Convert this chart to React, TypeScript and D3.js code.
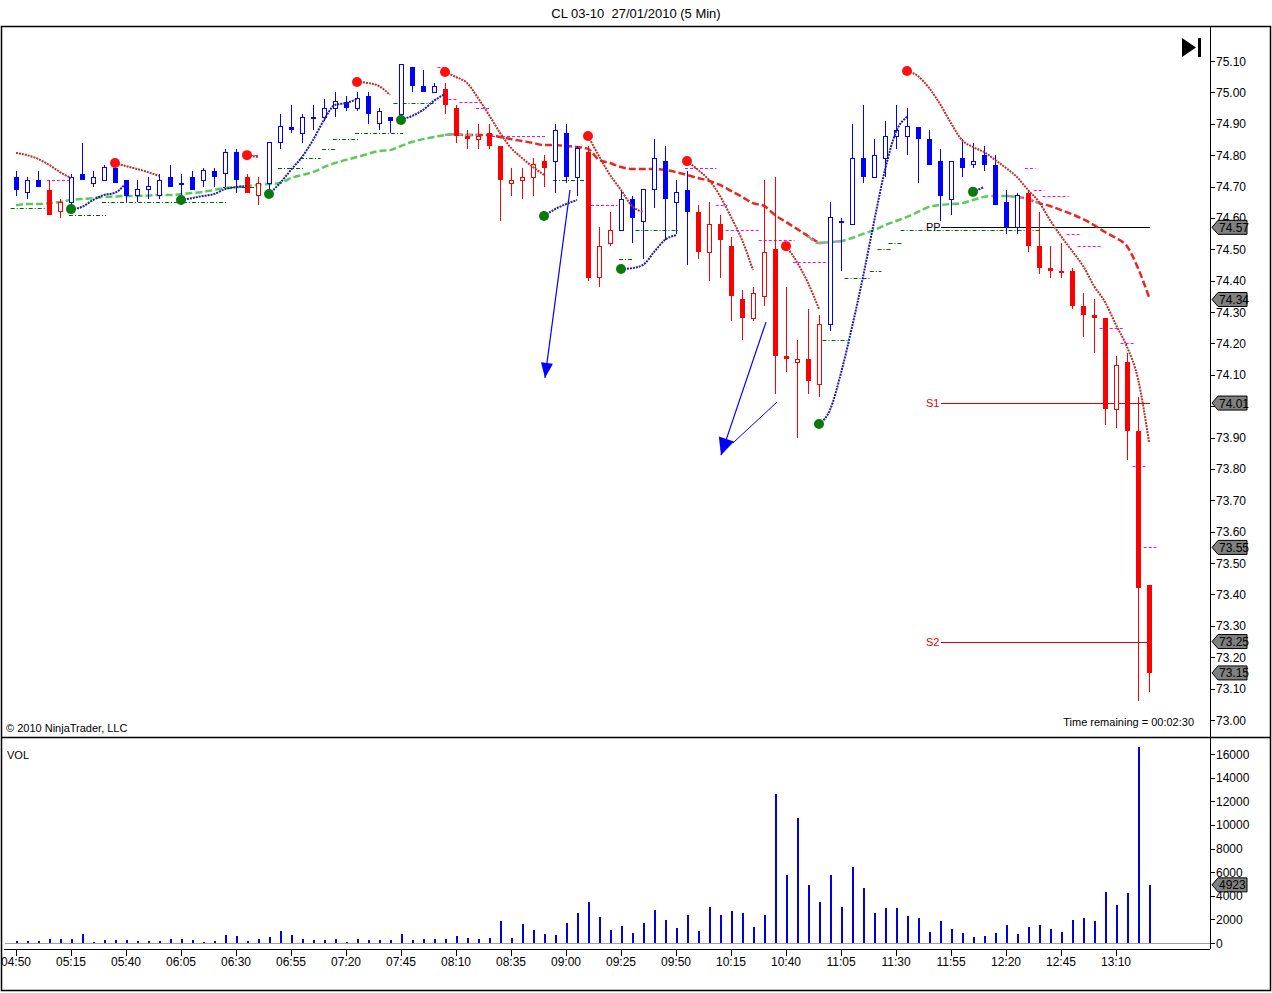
import * as d3 from 'd3';

// Price bars, 5 min, 04:50 .. 13:25
const opens = [74.73, 74.68, 74.72, 74.69, 74.62, 74.65, 74.74, 74.71, 74.72, 74.76,
  74.72, 74.67, 74.69, 74.67, 74.73, 74.71, 74.73, 74.72, 74.75, 74.74,
  74.81, 74.73, 74.67, 74.71, 74.84, 74.89, 74.87, 74.92, 74.92, 74.95,
  74.97, 74.95, 74.99, 74.90, 74.92, 74.93, 75.08, 75.02, 75.00, 75.01,
  74.95, 74.86, 74.85, 74.87, 74.83, 74.71, 74.72, 74.73, 74.78, 74.78,
  74.87, 74.73, 74.81, 74.41, 74.52, 74.56, 74.66, 74.59, 74.69, 74.78,
  74.65, 74.69, 74.62, 74.49, 74.58, 74.51, 74.34, 74.28, 74.35, 74.50,
  74.16, 74.14, 74.15, 74.07, 74.26, 74.59, 74.58, 74.79, 74.73, 74.79,
  74.86, 74.86, 74.89, 74.85, 74.78, 74.66, 74.79, 74.77, 74.80, 74.77,
  74.65, 74.57, 74.68, 74.51, 74.44, 74.43, 74.43, 74.32, 74.29, 74.28,
  73.99, 74.14, 73.92, 73.43];
const highs = [74.75, 74.73, 74.75, 74.72, 74.66, 74.74, 74.84, 74.75, 74.77, 74.78,
  74.72, 74.72, 74.73, 74.74, 74.77, 74.74, 74.75, 74.76, 74.76, 74.82,
  74.82, 74.74, 74.73, 74.84, 74.93, 74.96, 74.93, 74.96, 74.98, 75.00,
  74.99, 75.00, 75.00, 74.95, 74.92, 75.09, 75.08, 75.07, 75.03, 75.03,
  74.96, 74.88, 74.90, 74.90, 74.83, 74.76, 74.76, 74.79, 74.80, 74.90,
  74.90, 74.83, 74.83, 74.57, 74.62, 74.69, 74.67, 74.69, 74.85, 74.83,
  74.72, 74.75, 74.64, 74.65, 74.61, 74.54, 74.37, 74.38, 74.72, 74.73,
  74.38, 74.21, 74.31, 74.29, 74.65, 74.60, 74.90, 74.96, 74.85, 74.91,
  74.96, 74.95, 74.89, 74.88, 74.82, 74.78, 74.85, 74.84, 74.83, 74.80,
  74.69, 74.68, 74.69, 74.62, 74.51, 74.52, 74.44, 74.36, 74.34, 74.28,
  74.16, 74.17, 74.03, 73.43];
const lows = [74.67, 74.66, 74.70, 74.61, 74.60, 74.62, 74.72, 74.70, 74.72, 74.71,
  74.65, 74.65, 74.66, 74.66, 74.70, 74.64, 74.69, 74.70, 74.70, 74.70,
  74.68, 74.68, 74.64, 74.68, 74.82, 74.87, 74.84, 74.88, 74.91, 74.92,
  74.94, 74.94, 74.90, 74.88, 74.87, 74.93, 75.00, 75.00, 75.00, 74.93,
  74.84, 74.82, 74.82, 74.82, 74.59, 74.67, 74.66, 74.67, 74.70, 74.68,
  74.71, 74.67, 74.40, 74.38, 74.51, 74.56, 74.52, 74.47, 74.63, 74.53,
  74.55, 74.45, 74.47, 74.40, 74.41, 74.27, 74.21, 74.27, 74.32, 74.04,
  74.11, 73.90, 74.04, 74.03, 74.24, 74.43, 74.58, 74.71, 74.73, 74.73,
  74.82, 74.80, 74.71, 74.77, 74.59, 74.61, 74.73, 74.76, 74.75, 74.64,
  74.55, 74.55, 74.49, 74.42, 74.41, 74.41, 74.31, 74.22, 74.17, 73.94,
  73.93, 73.83, 73.06, 73.09];
const closes = [74.69, 74.72, 74.70, 74.61, 74.65, 74.73, 74.72, 74.73, 74.76, 74.71,
  74.67, 74.69, 74.70, 74.72, 74.70, 74.71, 74.69, 74.75, 74.73, 74.81,
  74.72, 74.68, 74.71, 74.84, 74.89, 74.88, 74.92, 74.92, 74.95, 74.97,
  74.95, 74.98, 74.93, 74.94, 74.91, 75.09, 75.02, 75.00, 75.02, 74.96,
  74.86, 74.85, 74.86, 74.83, 74.72, 74.72, 74.73, 74.77, 74.76, 74.88,
  74.73, 74.82, 74.41, 74.51, 74.56, 74.66, 74.60, 74.69, 74.79, 74.66,
  74.68, 74.62, 74.49, 74.58, 74.53, 74.35, 74.28, 74.36, 74.49, 74.16,
  74.15, 74.15, 74.08, 74.26, 74.60, 74.59, 74.79, 74.73, 74.80, 74.86,
  74.88, 74.89, 74.85, 74.77, 74.67, 74.78, 74.76, 74.78, 74.77, 74.64,
  74.57, 74.67, 74.51, 74.44, 74.43, 74.43, 74.32, 74.29, 74.28, 73.99,
  74.13, 73.92, 73.42, 73.15];
// trend colour runs: [colour, number of bars]
const trendRuns: [string, number][] = [['b', 3], ['r', 2], ['b', 16], ['r', 2], ['b', 16], ['r', 10],
  ['b', 3], ['r', 3], ['b', 7], ['r', 12], ['b', 18], ['r', 12]];

const volumes = [170, 170, 170, 340, 340, 340, 800, 110, 250, 250,
  250, 170, 170, 170, 340, 340, 250, 110, 170, 680,
  600, 170, 340, 510, 1020, 680, 340, 250, 250, 340,
  85, 340, 250, 250, 250, 760, 250, 340, 340, 340,
  600, 420, 340, 420, 1870, 420, 1640, 1100, 790, 680,
  1700, 2550, 3480, 2200, 1100, 1440, 850, 1700, 2800, 1950,
  1270, 2380, 1020, 3060, 2380, 2720, 2550, 1360, 2380, 12580,
  5780, 10540, 4930, 3480, 5780, 3060, 6460, 4670, 2550, 2970,
  2970, 2290, 2120, 930, 1870, 1190, 850, 510, 600, 850,
  1530, 760, 1360, 1530, 1190, 930, 1950, 2120, 1870, 4330,
  3230, 4250, 16570, 4923];

// slow moving average, one value per bar
const maValues = [74.640, 74.644, 74.644, 74.647, 74.651, 74.657, 74.660, 74.663, 74.667, 74.668,
  74.670, 74.670, 74.671, 74.673, 74.673, 74.676, 74.679, 74.683, 74.689, 74.695,
  74.698, 74.702, 74.705, 74.708, 74.711, 74.727, 74.737, 74.746, 74.762, 74.775,
  74.785, 74.794, 74.804, 74.813, 74.816, 74.829, 74.842, 74.851, 74.858, 74.864,
  74.867, 74.864, 74.864, 74.864, 74.858, 74.851, 74.845, 74.839, 74.832, 74.832,
  74.829, 74.826, 74.820, 74.785, 74.775, 74.762, 74.756, 74.756, 74.756, 74.753,
  74.746, 74.737, 74.727, 74.718, 74.705, 74.686, 74.667, 74.647, 74.638, 74.609,
  74.587, 74.565, 74.542, 74.520, 74.523, 74.526, 74.536, 74.549, 74.561, 74.577,
  74.590, 74.603, 74.619, 74.635, 74.641, 74.644, 74.647, 74.657, 74.667, 74.670,
  74.670, 74.667, 74.660, 74.647, 74.638, 74.625, 74.612, 74.596, 74.577, 74.555,
  74.536, 74.510, 74.440, 74.348];
// [colour, first bar, last bar]
const maRuns: [string, number, number][] = [['g', 0, 40], ['r', 40, 73], ['g', 73, 91], ['r', 91, 103]];

// trailing stop segments: first bar + values
const blueTrails: [number, number[]][] = [
  [5, [74.628, 74.635, 74.657, 74.673, 74.680, 74.711]],
  [15, [74.657, 74.663, 74.670, 74.676, 74.692, 74.698, 74.702]],
  [23, [74.676, 74.711, 74.753, 74.794, 74.848, 74.912, 74.960, 74.966, 74.979]],
  [35, [74.912, 74.925, 74.944, 74.973, 74.995]],
  [48, [74.606, 74.628, 74.644, 74.657]],
  [55, [74.437, 74.440, 74.450, 74.491, 74.530, 74.545]],
  [73, [73.943, 73.988, 74.106, 74.252, 74.412, 74.587, 74.753, 74.874, 74.922]],
  [87, [74.683, 74.698]],
];
const redTrails: [number, number[]][] = [
  [0, [74.807, 74.800, 74.788, 74.769, 74.746, 74.727]],
  [9, [74.775, 74.765, 74.756, 74.746, 74.734]],
  [21, [74.800, 74.794]],
  [31, [75.033, 75.030, 75.020, 74.992]],
  [39, [75.065, 75.049, 75.030, 74.982, 74.928, 74.871, 74.823, 74.791, 74.762, 74.737]],
  [52, [74.861, 74.797, 74.737, 74.689, 74.638, 74.619]],
  [61, [74.781, 74.753, 74.721, 74.670, 74.603, 74.530, 74.434]],
  [70, [74.510, 74.459, 74.393, 74.310]],
  [81, [75.068, 75.052, 75.014, 74.963, 74.902, 74.848, 74.826, 74.810, 74.785, 74.759,
    74.730, 74.689, 74.651, 74.593, 74.542, 74.495, 74.447, 74.383, 74.332, 74.259,
    74.189, 74.087, 73.886]],
];

// short swing levels: [from bar, to bar, price]
const supportDashes: [number, number, number][] = [
  [-0.3, 2.5, 74.63], [5, 8, 74.61], [8, 19, 74.65], [19, 21.5, 74.70], [24, 26, 74.76],
  [26, 27.5, 74.79], [28, 29, 74.82], [29, 31, 74.85], [31, 35, 74.87], [34.5, 38, 74.965],
  [49, 51.5, 74.72], [55, 56, 74.47], [56.5, 60, 74.56], [73.5, 75.5, 74.21], [75.5, 77.5, 74.41],
  [77.8, 78.5, 74.43], [78.5, 79.5, 74.50], [79.5, 80.4, 74.52], [80.6, 93, 74.56],
];
const resistDashes: [number, number, number][] = [
  [3, 5, 74.72], [21, 22, 74.80], [38.5, 39, 75.08], [39.5, 40, 74.98], [40.5, 42, 74.97],
  [42, 43, 74.95], [43, 48, 74.86], [52, 54.5, 74.64], [61, 63.5, 74.76], [63.8, 64.5, 74.64],
  [64.7, 67.5, 74.56], [67.7, 70.6, 74.53], [70.8, 73.5, 74.46], [91.9, 92.5, 74.76],
  [92.7, 93.3, 74.69], [93.5, 95.5, 74.67], [95.7, 96.5, 74.55], [96.7, 98.5, 74.51],
  [98.7, 100.5, 74.25], [100.6, 101.5, 74.20], [101.7, 102.5, 73.81], [102.7, 103.5, 73.55],
];

// pivot levels
const pivots: [string, number, string][] = [['PP', 74.57, '#000000'], ['S1', 74.01, '#e00000'], ['S2', 73.25, '#e00000']];
const priceTags = [74.57, 74.34, 74.01, 73.55, 73.25, 73.15];

// drawn arrows: [bar, price] start and tip
const arrows: [number, number, number, number][] = [
  [50.36, 74.689, 48.09, 74.09],
  [68.18, 74.268, 64.09, 73.844],
];
const arrowExtraLine: [number, number, number, number] = [69.18, 74.013, 65.18, 73.883];

const timeLabels = ['04:50', '05:15', '05:40', '06:05', '06:30', '06:55', '07:20', '07:45', '08:10', '08:35',
  '09:00', '09:25', '09:50', '10:15', '10:40', '11:05', '11:30', '11:55', '12:20', '12:45', '13:10'];
const priceTicks = d3.range(0, 22).map(k => 73 + k * 0.1);
const volTicks = [0, 2000, 4000, 6000, 8000, 10000, 12000, 14000, 16000];

const FONT = "'Liberation Sans', Arial, sans-serif";
const BLUE = '#0000ff';
const RED = '#ff0000';

export default function App() {
  const x = d3.scaleLinear().domain([0, 103]).range([16, 1149]);
  const y = d3.scaleLinear().domain([73.0, 75.1]).range([720, 61]);
  const yv = d3.scaleLinear().domain([0, 16000]).range([943, 754]);
  const axisX = 1210;

  const trend: string[] = [];
  trendRuns.forEach(([c, n]) => { for (let k = 0; k < n; k++) trend.push(c); });

  const line = d3.line<[number, number]>().x(d => x(d[0])).y(d => y(d[1])).curve(d3.curveMonotoneX);

  // moving average pieces, grey where the colour flips
  const maPieces: { d: string; color: string }[] = [];
  maRuns.forEach(([c, a, b], k) => {
    const pts: [number, number][] = d3.range(a, b + 1).map(i => [i, maValues[i]]);
    maPieces.push({ d: line(pts) || '', color: c === 'g' ? '#5acb5a' : '#e8281e' });
    if (k > 0) {
      const t: [number, number][] = d3.range(a - 1, Math.min(a + 2, 103) + 1).map(i => [i, maValues[i]]);
      maPieces.push({ d: line(t) || '', color: '#a0a0a0' });
    }
  });

  // tick labels fully covered by a price tag are not drawn
  const hidden = (p: number) => priceTags.some(t => Math.abs(t - p) < 0.025);

  const tag = (py: number, text: string, key: string) => (
    <g key={key}>
      <path d={`M${axisX + 2},${py} L${axisX + 8},${py - 7} H${axisX + 37} V${py + 7} H${axisX + 8} Z`}
        fill="#808080" stroke="#000" strokeWidth={1} />
      <text x={axisX + 9} y={py + 4.5} fontSize={12} fontFamily={FONT} fill="#000">{text}</text>
    </g>
  );

  const arrowHead = (x1: number, y1: number, x2: number, y2: number, len: number, half: number) => {
    const ang = Math.atan2(y2 - y1, x2 - x1);
    const bx = x2 - len * Math.cos(ang), by = y2 - len * Math.sin(ang);
    const px = -Math.sin(ang) * half, py = Math.cos(ang) * half;
    return `M${x2},${y2} L${bx + px},${by + py} L${bx - px},${by - py} Z`;
  };

  return (
    <div style={{ position: 'absolute', left: 0, top: 0 }}>
      <svg width={1272} height={993} style={{ display: 'block', background: '#fff' }}>
        <text x={636} y={18} textAnchor="middle" fontSize={13} fontFamily={FONT} style={{ whiteSpace: 'pre' }}>
          {'CL 03-10  27/01/2010 (5 Min)'}
        </text>
        {/* frame */}
        <rect x={1.5} y={26.5} width={1269} height={964} fill="none" stroke="#000" strokeWidth={1.5} />
        <line x1={1} x2={1271} y1={737.5} y2={737.5} stroke="#000" strokeWidth={1.5} />
        <line x1={axisX + 0.5} x2={axisX + 0.5} y1={27} y2={949} stroke="#000" />

        {/* support / resistance dashes */}
        {supportDashes.map(([a, b, p], k) => (
          <line key={'s' + k} x1={x(a) - 2} x2={x(b) + 2} y1={Math.round(y(p)) + 0.5} y2={Math.round(y(p)) + 0.5}
            stroke="#006400" strokeDasharray="4 2 1 2" />
        ))}
        {resistDashes.map(([a, b, p], k) => (
          <line key={'r' + k} x1={x(a) - 2} x2={x(b) + 2} y1={Math.round(y(p)) + 0.5} y2={Math.round(y(p)) + 0.5}
            stroke="#ff00ff" strokeDasharray="3 2" />
        ))}

        {/* pivots */}
        {pivots.map(([name, p, c]) => (
          <g key={name}>
            <line x1={941} x2={x(103) + 1} y1={Math.round(y(p)) + 0.5} y2={Math.round(y(p)) + 0.5} stroke={c} />
            <text x={926} y={y(p) + 4} fontSize={11} fontFamily={FONT} fill={c}>{name}</text>
          </g>
        ))}

        {/* moving average */}
        {maPieces.map((m, k) => (
          <path key={'ma' + k} d={m.d} fill="none" stroke={m.color} strokeWidth={2.5} strokeDasharray="7 3" />
        ))}

        {/* candles */}
        <g shapeRendering="crispEdges">
          {opens.map((o, i) => {
            const c = closes[i];
            const col = trend[i] === 'b' ? BLUE : RED;
            const cx = Math.round(x(i));
            const top = y(Math.max(o, c));
            const bot = y(Math.min(o, c));
            const filled = c < o;
            return (
              <g key={'c' + i}>
                <line x1={cx + 0.5} x2={cx + 0.5} y1={y(highs[i])} y2={y(lows[i])} stroke={col} />
                {filled
                  ? <rect x={cx - 2} y={top} width={5} height={Math.max(1, bot - top)} fill={col} />
                  : <rect x={cx - 1.5} y={top} width={4} height={Math.max(1, bot - top)} fill="#fff" stroke={col} />}
              </g>
            );
          })}
        </g>

        {/* trailing stops */}
        {blueTrails.map(([s, vals], k) => (
          <path key={'bt' + k} d={line(vals.map((v, j) => [s + j, v] as [number, number])) || ''}
            fill="none" stroke="#1c1ca0" strokeWidth={2} strokeDasharray="2 1" />
        ))}
        {redTrails.map(([s, vals], k) => (
          <path key={'rt' + k} d={line(vals.map((v, j) => [s + j, v] as [number, number])) || ''}
            fill="none" stroke="#b8302c" strokeWidth={2} strokeDasharray="2 1" />
        ))}
        {blueTrails.map(([s, vals], k) => (
          <circle key={'gd' + k} cx={x(s)} cy={y(vals[0])} r={5} fill="#0a7a0a" />
        ))}
        {redTrails.slice(1).map(([s, vals], k) => (
          <circle key={'rd' + k} cx={x(s)} cy={y(vals[0])} r={5} fill="#ff1010" />
        ))}

        {/* drawn arrows */}
        {arrows.map(([b1, p1, b2, p2], k) => (
          <g key={'ar' + k}>
            <line x1={x(b1)} y1={y(p1)} x2={x(b2)} y2={y(p2)} stroke={BLUE} strokeWidth={1.2} />
            <path d={arrowHead(x(b1), y(p1), x(b2), y(p2), k === 0 ? 15 : 17, k === 0 ? 6 : 8)} fill={BLUE} />
          </g>
        ))}
        <line x1={x(arrowExtraLine[0])} y1={y(arrowExtraLine[1])} x2={x(arrowExtraLine[2])} y2={y(arrowExtraLine[3])}
          stroke={BLUE} strokeWidth={1} />

        {/* price axis */}
        {priceTicks.map(p => (
          <g key={'pt' + p.toFixed(2)}>
            <line x1={axisX} x2={axisX + 5} y1={Math.round(y(p)) + 0.5} y2={Math.round(y(p)) + 0.5} stroke="#000" />
            {!hidden(p) && (
              <text x={axisX + 6} y={y(p) + 4.5} fontSize={12} fontFamily={FONT} fill="#000">{p.toFixed(2)}</text>
            )}
          </g>
        ))}
        {priceTags.map(p => tag(y(p), p.toFixed(2), 'tag' + p))}

        {/* play-to-end icon */}
        <path d="M1182,38 L1196,47.5 L1182,57 Z" fill="#000" />
        <rect x={1198} y={38} width={3} height={19} fill="#000" />

        <text x={6} y={732} fontSize={11} fontFamily={FONT} fill="#000">© 2010 NinjaTrader, LLC</text>
        <text x={1194} y={726} textAnchor="end" fontSize={11} fontFamily={FONT} fill="#000">Time remaining = 00:02:30</text>

        {/* volume panel */}
        <text x={7} y={759} fontSize={11} fontFamily={FONT} fill="#000">VOL</text>
        <line x1={5} x2={axisX} y1={943.5} y2={943.5} stroke="#a0a0a0" />
        <g shapeRendering="crispEdges">
          {volumes.map((v, i) => (
            <rect key={'v' + i} x={Math.round(x(i)) - 0.5} y={yv(v)} width={2} height={yv(0) - yv(v)} fill="#0000e0" />
          ))}
        </g>
        {volTicks.map(v => (
          <g key={'vt' + v}>
            <line x1={axisX} x2={axisX + 5} y1={Math.round(yv(v)) + 0.5} y2={Math.round(yv(v)) + 0.5} stroke="#000" />
            {Math.abs(v - volumes[103]) > 700 && (
              <text x={axisX + 6} y={yv(v) + 4.5} fontSize={12} fontFamily={FONT} fill="#000">{v}</text>
            )}
          </g>
        ))}
        {tag(yv(volumes[103]), String(volumes[103]), 'vtag')}

        {/* time axis */}
        <line x1={4} x2={axisX} y1={949.5} y2={949.5} stroke="#000" />
        {timeLabels.map((t, k) => (
          <g key={t}>
            <line x1={Math.round(x(k * 5)) + 0.5} x2={Math.round(x(k * 5)) + 0.5} y1={949} y2={956} stroke="#000" />
            <text x={x(k * 5)} y={966} textAnchor="middle" fontSize={12} fontFamily={FONT} fill="#000">{t}</text>
          </g>
        ))}
      </svg>
    </div>
  );
}
